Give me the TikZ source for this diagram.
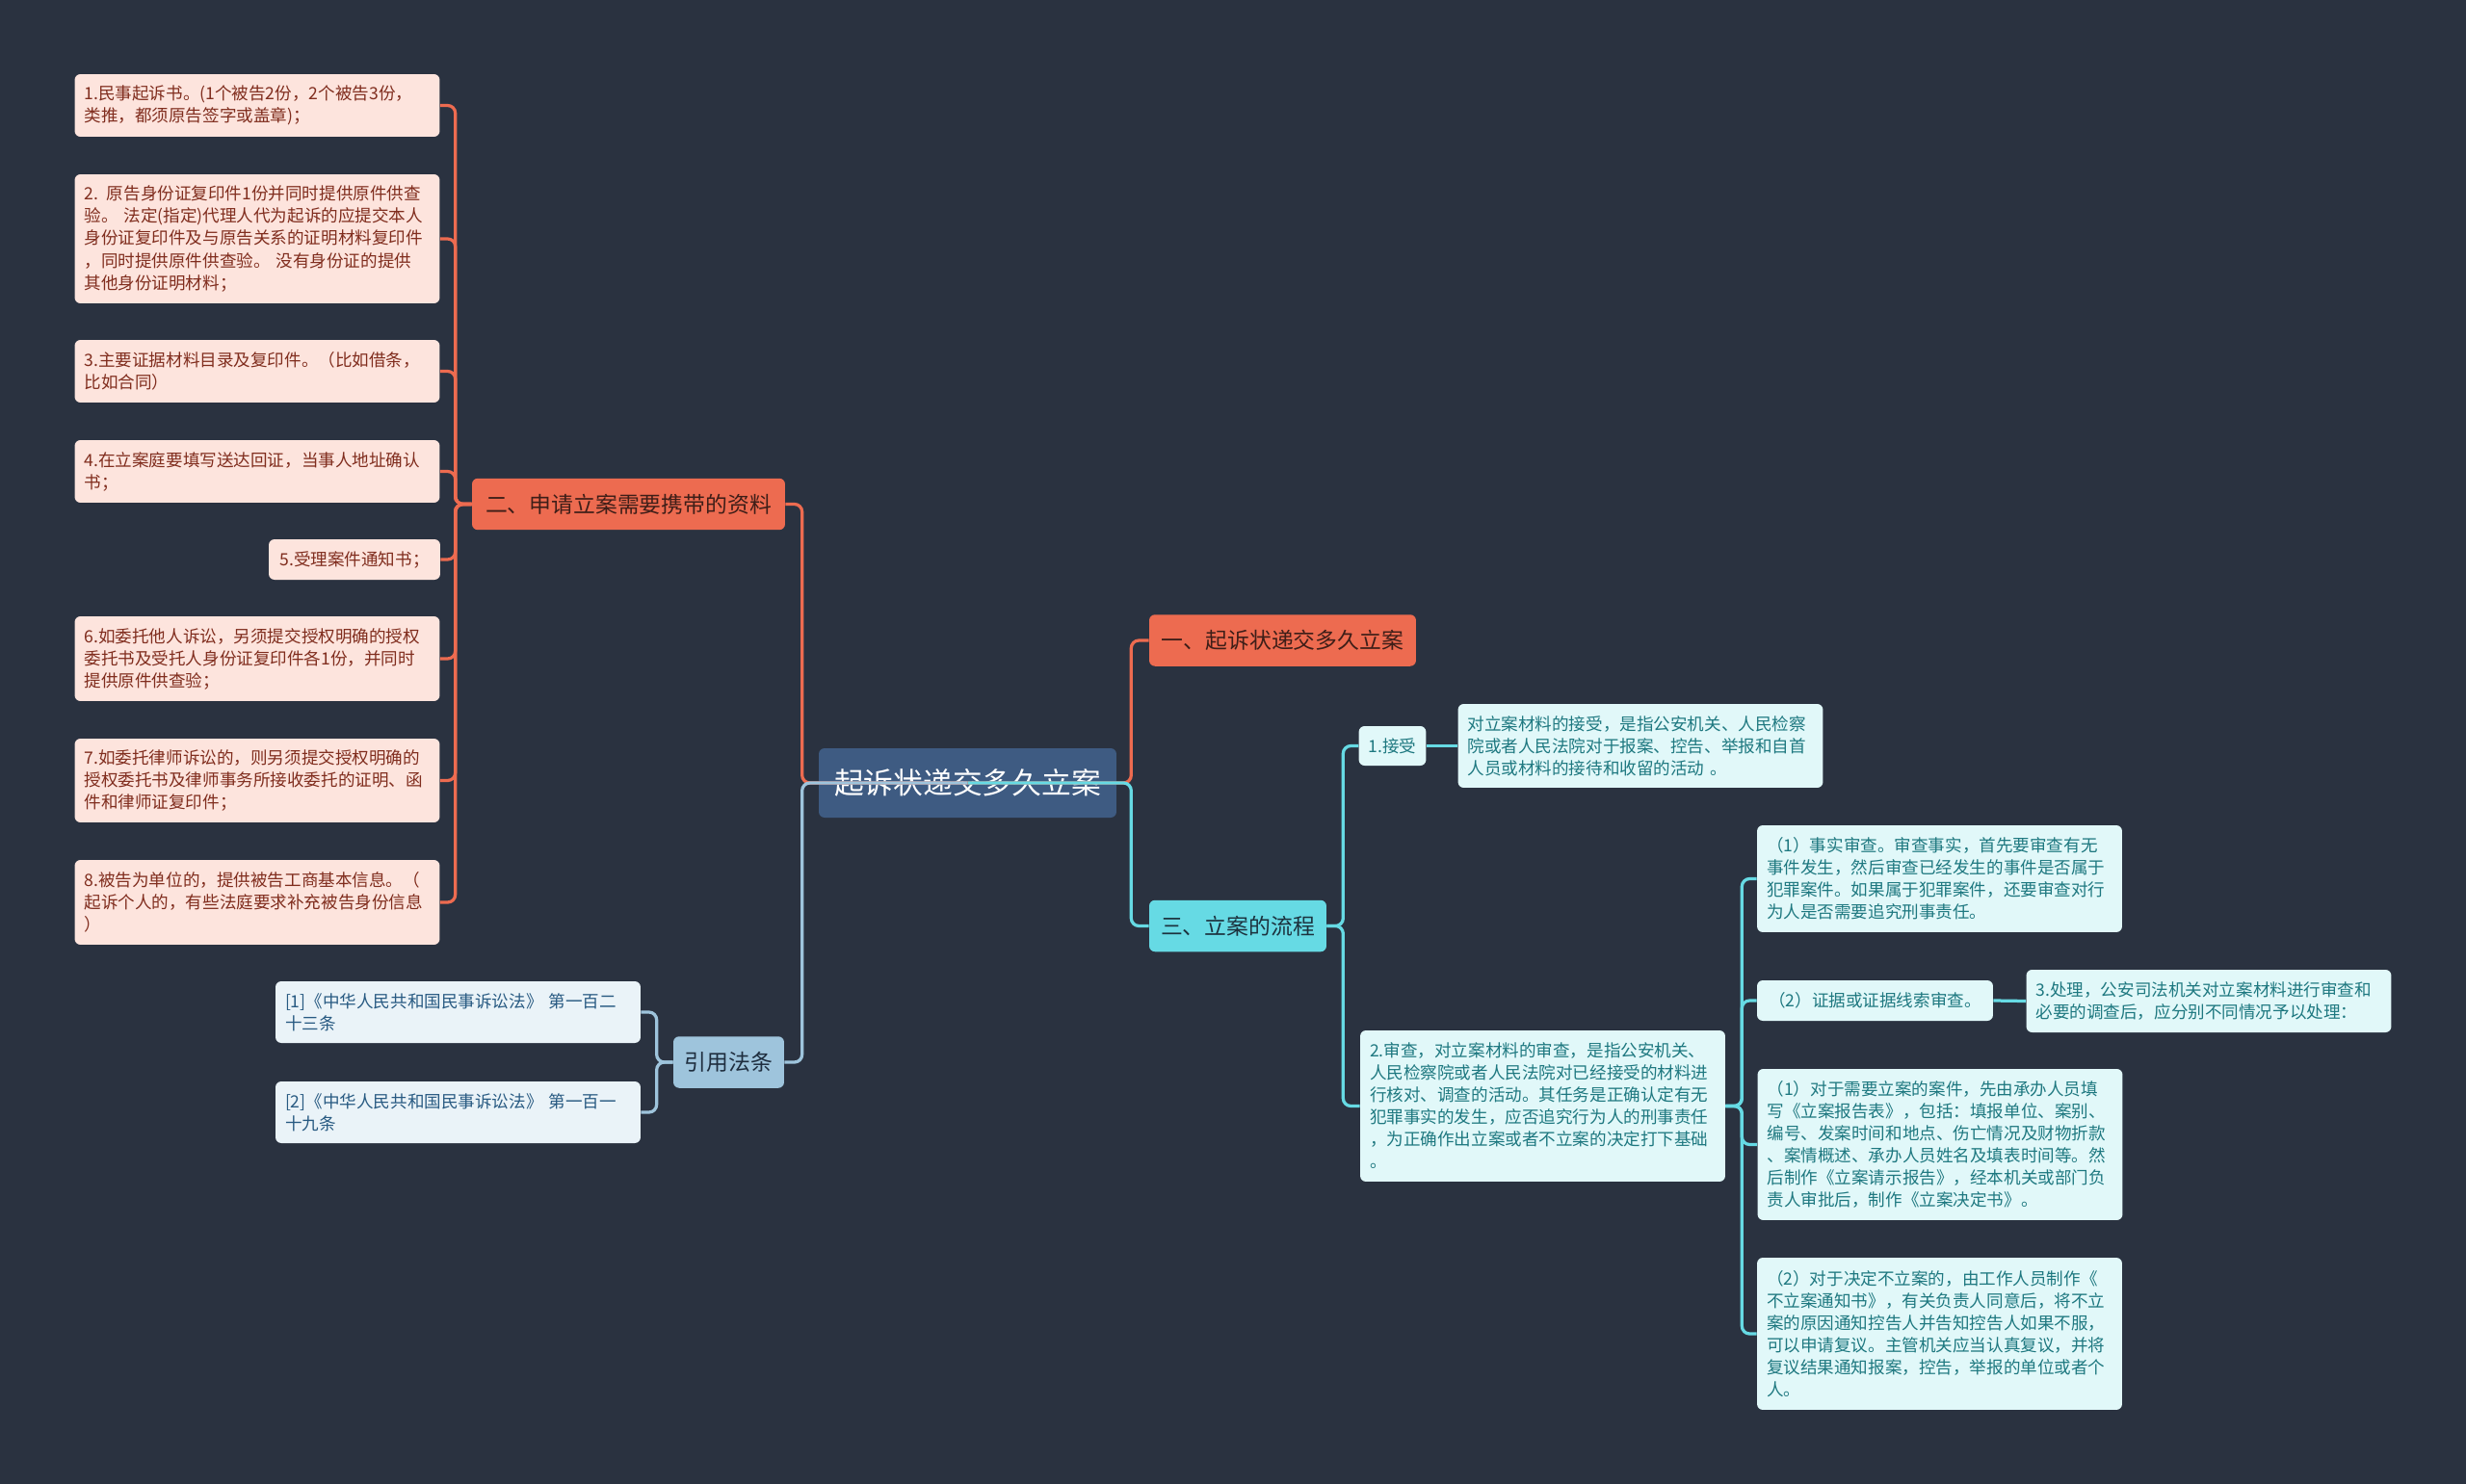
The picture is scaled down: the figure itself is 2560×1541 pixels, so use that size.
\documentclass[tikz,border=0pt]{standalone}
\usepackage{fontspec}
\setmainfont{Noto Sans CJK SC}
\usepackage{xcolor}
\definecolor{bgc}{RGB}{42,50,64}
\definecolor{rootc}{RGB}{62,91,130}
\definecolor{orc}{RGB}{237,107,80}
\definecolor{orleaf}{RGB}{253,228,221}
\definecolor{ortext}{RGB}{128,45,30}
\definecolor{ordark}{RGB}{62,30,24}
\definecolor{cyc}{RGB}{102,218,228}
\definecolor{cyleaf}{RGB}{225,248,249}
\definecolor{cytext}{RGB}{30,120,128}
\definecolor{cydark}{RGB}{28,50,62}
\definecolor{blc}{RGB}{158,196,220}
\definecolor{blleaf}{RGB}{234,243,248}
\definecolor{bltext}{RGB}{40,90,130}
\definecolor{bldark}{RGB}{30,45,62}

\begin{document}
\begin{tikzpicture}[x=0.02cm, y=-0.02cm,
  box/.style={rounded corners=0.12cm, inner xsep=0.2cm, inner ysep=0.18cm},
  rootbox/.style={box, fill=rootc, text=white, font=\fontsize{17.5pt}{21pt}\selectfont,
    minimum width=6.18cm, minimum height=1.44cm},
  branch/.style={box, font=\fontsize{13pt}{16pt}\selectfont, minimum height=1.07cm},
  leaf/.style={box, font=\fontsize{10pt}{13.1pt}\selectfont, align=left},
  wide/.style={leaf, text width=7.18cm},
  oleaf/.style={fill=orleaf, text=ortext},
  cleaf/.style={fill=cyleaf, text=cytext},
  bleaf/.style={fill=blleaf, text=bltext},
  link/.style={line width=0.065cm, rounded corners=0.16cm},
  olink/.style={link, draw=orc},
  clink/.style={link, draw=cyc},
  blink/.style={link, draw=blc}
]
  \fill[bgc] (0,0) rectangle (2560,1541);
  \useasboundingbox (0,0) rectangle (2560,1541);

  % centre and main branches
  \node[rootbox] (root) at (1004.5,813) {起诉状递交多久立案};
  \node[branch, fill=orc, text=ordark, minimum width=6.5cm] (cailiao) at (652.5,523.5) {二、申请立案需要携带的资料};
  \node[branch, fill=blc, text=bldark, minimum width=2.3cm] (fatiao) at (756.5,1103) {引用法条};
  \node[branch, fill=orc, text=ordark, minimum width=5.54cm] (duojiu) at (1331.5,665) {一、起诉状递交多久立案};
  \node[branch, fill=cyc, text=cydark, minimum width=3.68cm] (liucheng) at (1285,961.5) {三、立案的流程};

  % materials
  \node[wide, oleaf, minimum height=1.3cm] (m1) at (267,109.5)
    {1.民事起诉书。(1个被告2份，2个被告3份，\\类推，都须原告签字或盖章)；};
  \node[wide, oleaf, minimum height=2.68cm] (m2) at (267,248)
    {2. 原告身份证复印件1份并同时提供原件供查\\验。 法定(指定)代理人代为起诉的应提交本人\\身份证复印件及与原告关系的证明材料复印件\\，同时提供原件供查验。 没有身份证的提供\\其他身份证明材料；};
  \node[wide, oleaf, minimum height=1.3cm] (m3) at (267,385.5)
    {3.主要证据材料目录及复印件。（比如借条，\\比如合同）};
  \node[wide, oleaf, minimum height=1.3cm] (m4) at (267,489.5)
    {4.在立案庭要填写送达回证，当事人地址确认\\书；};
  \node[leaf, oleaf, minimum width=3.56cm, minimum height=0.84cm] (m5) at (368,581)
    {5.受理案件通知书；};
  \node[wide, oleaf, minimum height=1.76cm] (m6) at (267,684)
    {6.如委托他人诉讼，另须提交授权明确的授权\\委托书及受托人身份证复印件各1份，并同时\\提供原件供查验；};
  \node[wide, oleaf, minimum height=1.74cm] (m7) at (267,810.5)
    {7.如委托律师诉讼的，则另须提交授权明确的\\授权委托书及律师事务所接收委托的证明、函\\件和律师证复印件；};
  \node[wide, oleaf, minimum height=1.76cm] (m8) at (267,937)
    {8.被告为单位的，提供被告工商基本信息。（\\起诉个人的，有些法庭要求补充被告身份信息\\）};

  % laws
  \node[wide, bleaf, minimum height=1.28cm] (law1) at (475.5,1051)
    {[1]《中华人民共和国民事诉讼法》 第一百二\\十三条};
  \node[wide, bleaf, minimum height=1.28cm] (law2) at (475.5,1155)
    {[2]《中华人民共和国民事诉讼法》 第一百一\\十九条};

  % procedure
  \node[leaf, cleaf, minimum width=1.38cm, minimum height=0.82cm] (jieshou) at (1445.5,774.5) {1.接受};
  \node[wide, cleaf, minimum height=1.74cm] (jieshoutxt) at (1703,774.5)
    {对立案材料的接受，是指公安机关、人民检察\\院或者人民法院对于报案、控告、举报和自首\\人员或材料的接待和收留的活动 。};
  \node[wide, cleaf, minimum height=3.14cm] (shencha) at (1601.5,1148.5)
    {2.审查，对立案材料的审查，是指公安机关、\\人民检察院或者人民法院对已经接受的材料进\\行核对、调查的活动。其任务是正确认定有无\\犯罪事实的发生，应否追究行为人的刑事责任\\，为正确作出立案或者不立案的决定打下基础\\。};
  \node[wide, cleaf, minimum height=2.22cm] (shishi) at (2013.5,912.5)
    {（1）事实审查。审查事实，首先要审查有无\\事件发生，然后审查已经发生的事件是否属于\\犯罪案件。如果属于犯罪案件，还要审查对行\\为人是否需要追究刑事责任。};
  \node[leaf, cleaf, minimum width=4.9cm, minimum height=0.84cm] (zhengju) at (1946.5,1039)
    {（2）证据或证据线索审查。};
  \node[wide, cleaf, minimum height=1.3cm] (chuli) at (2293,1039.5)
    {3.处理，公安司法机关对立案材料进行审查和\\必要的调查后，应分别不同情况予以处理：};
  \node[wide, cleaf, minimum height=3.14cm] (lian) at (2014,1188.5)
    {（1）对于需要立案的案件，先由承办人员填\\写《立案报告表》，包括：填报单位、案别、\\编号、发案时间和地点、伤亡情况及财物折款\\、案情概述、承办人员姓名及填表时间等。然\\后制作《立案请示报告》，经本机关或部门负\\责人审批后，制作《立案决定书》。};
  \node[wide, cleaf, minimum height=3.16cm] (bulian) at (2013.5,1385)
    {（2）对于决定不立案的，由工作人员制作《\\不立案通知书》，有关负责人同意后，将不立\\案的原因通知控告人并告知控告人如果不服，\\可以申请复议。主管机关应当认真复议，并将\\复议结果通知报案，控告，举报的单位或者个\\人。};

  % connectors
  \draw[olink] (root.center) -- (root.west) -- ++(-17,0) |- (cailiao.east);
  \draw[blink] (root.center) -- (root.west) -- ++(-17,0) |- (fatiao.east);
  \draw[olink] (root.center) -- (root.east) -- ++(15,0) |- (duojiu.west);
  \draw[clink] (root.center) -- (root.east) -- ++(15,0) |- (liucheng.west);
  \foreach \m in {m1,m2,m3,m4,m5,m6,m7,m8}
    \draw[olink] (cailiao.west) -- ++(-17,0) |- (\m.east);
  \foreach \m in {law1,law2}
    \draw[blink] (fatiao.west) -- ++(-17,0) |- (\m.east);
  \foreach \m in {jieshou,shencha}
    \draw[clink] (liucheng.east) -- ++(17,0) |- (\m.west);
  \draw[clink] (jieshou.east) -- (jieshoutxt.west);
  \foreach \m in {shishi,zhengju,lian,bulian}
    \draw[clink] (shencha.east) -- ++(17,0) |- (\m.west);
  \draw[clink] (zhengju.east) -- (chuli.west);
\end{tikzpicture}
\end{document}
